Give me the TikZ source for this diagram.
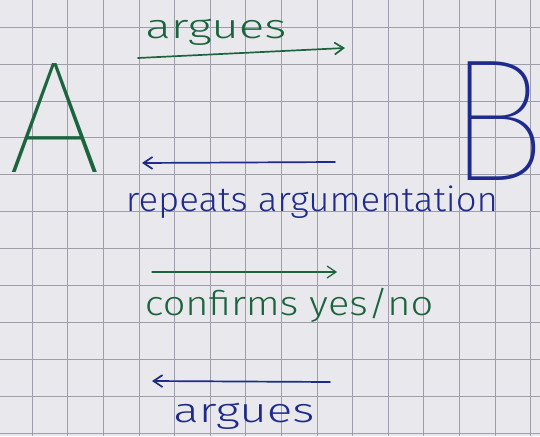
\documentclass[tikz,border=0pt]{standalone}
\usepackage{fontspec}
\usepackage{graphicx}
\usetikzlibrary{arrows.meta}
\newfontfamily\handfont{Fira Sans Light}
\newfontfamily\bigfont{Fira Sans Thin}
\definecolor{paper}{RGB}{233,233,237}
\definecolor{gridline}{RGB}{158,158,170}
\definecolor{penA}{RGB}{28,100,62}
\definecolor{penB}{RGB}{30,42,140}
\newcommand{\hand}[2]{\handfont\fontsize{34}{40}\selectfont\scalebox{#1}[1]{#2}}
\newcommand{\bigletter}[3]{\bigfont\fontsize{160}{160}\selectfont\scalebox{#1}[#2]{#3}}
\tikzset{
  label/.style={inner sep=0pt, anchor=base},
  pen/.style={line width=1.7pt, line cap=round, -{Straight Barb[length=9pt,width=12pt]}},
}
\begin{document}
\begin{tikzpicture}[x=1pt, y=-1pt]
  \fill[paper] (0,0) rectangle (540,436);
  \useasboundingbox (0,0) rectangle (540,436);
  % squared paper
  \foreach \k in {0,...,14} {
    \draw[gridline, line width=0.6pt] (32+35.6*\k,0) -- (32+35.6*\k,436);
  }
  \foreach \k in {0,...,11} {
    \draw[gridline, line width=0.6pt] (0,27+36.9*\k) -- (540,27+36.9*\k);
  }
  % the two parties
  \node[label, penA] (A) at (55,172) {\bigletter{1.06}{1}{A}};
  \node[label, penB] (B) at (497,180) {\bigletter{1.05}{1.09}{B}};
  % messages
  \node[label, penA] (argTop) at (216,39) {\hand{1.4}{argues}};
  \coordinate (t1) at (138,58);
  \coordinate (t2) at (345,48);
  \draw[pen, penA] (t1) -- (t2);

  \coordinate (r1) at (335,162);
  \coordinate (r2) at (142,163);
  \draw[pen, penB] (r1) -- (r2);
  \node[label, penB] (rep) at (312,211) {\hand{1.075}{repeats argumentation}};

  \coordinate (c1) at (152,272);
  \coordinate (c2) at (337,272);
  \draw[pen, penA, line width=1.2pt] (c1) -- (c2);
  \node[label, penA] (conf) at (289,315) {\hand{1.17}{confirms yes/no}};

  \coordinate (b1) at (330,382);
  \coordinate (b2) at (152,381);
  \draw[pen, penB] (b1) -- (b2);
  \node[label, penB] (argBot) at (244,422) {\hand{1.4}{argues}};
\end{tikzpicture}
\end{document}
